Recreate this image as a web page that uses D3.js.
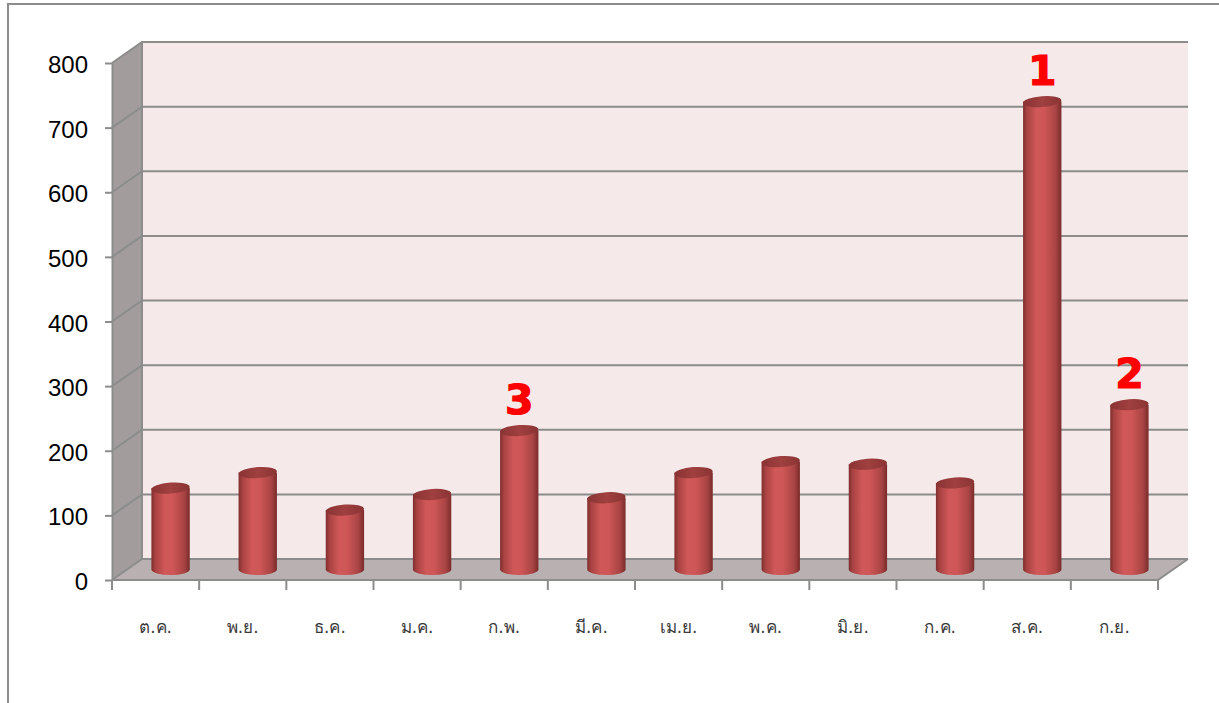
<!DOCTYPE html>
<html>
<head>
<meta charset="utf-8">
<script src="https://cdn.jsdelivr.net/npm/d3@7"></script>
<style>
  html, body { margin: 0; padding: 0; background: #fff; }
  svg { display: block; }
</style>
</head>
<body>
<svg id="chart" width="1219" height="703"></svg>
<script>
// data
var months = ['ต.ค.', 'พ.ย.', 'ธ.ค.', 'ม.ค.', 'ก.พ.', 'มี.ค.', 'เม.ย.', 'พ.ค.', 'มิ.ย.', 'ก.ค.', 'ส.ค.', 'ก.ย.'];
var counts = [126, 150, 92, 116, 215, 111, 150, 167, 163, 134, 724, 255];
var yTicks = [0, 100, 200, 300, 400, 500, 600, 700, 800];
var rankLabels = [{ month: 'ส.ค.', text: '1' }, { month: 'ก.ย.', text: '2' }, { month: 'ก.พ.', text: '3' }];

var svg = d3.select('#chart');

// 3d depth offset of the back wall
var dx = 30, dy = -21;

var x = d3.scaleBand().domain(months).range([112, 1158]).padding(0);
var y = d3.scaleLinear().domain([0, 800]).range([580, 63]);

var defs = svg.append('defs');
var grad = defs.append('linearGradient').attr('id', 'cyl').attr('x1', 0).attr('x2', 1).attr('y1', 0).attr('y2', 0);
[['0%', '#7f2d2d'], ['10%', '#a84242'], ['35%', '#d15858'], ['55%', '#cf5656'], ['85%', '#a94444'], ['100%', '#7a2b2b']]
  .forEach(function (s) { grad.append('stop').attr('offset', s[0]).attr('stop-color', s[1]); });
var topGrad = defs.append('linearGradient').attr('id', 'cyltop').attr('x1', 0).attr('x2', 1);
[['0%', '#8a3333'], ['50%', '#a04040'], ['100%', '#8a3333']]
  .forEach(function (s) { topGrad.append('stop').attr('offset', s[0]).attr('stop-color', s[1]); });

// outer frame
svg.append('path').attr('d', 'M8,703 L8,4 L1219,4')
  .attr('fill', 'none').attr('stroke', '#8c8c8c').attr('stroke-width', 2);

// back wall
svg.append('rect')
  .attr('x', 112 + dx).attr('y', y(800) + dy)
  .attr('width', 1158 - 112).attr('height', y(0) - y(800))
  .attr('fill', '#f5e9e9');

// side wall
svg.append('polygon')
  .attr('points', [[112, y(800)], [112 + dx, y(800) + dy], [112 + dx, y(0) + dy], [112, y(0)]].join(' '))
  .attr('fill', '#a29c9c');

// floor
svg.append('polygon')
  .attr('points', [[112, y(0)], [1158, y(0)], [1158 + dx, y(0) + dy], [112 + dx, y(0) + dy]].join(' '))
  .attr('fill', '#b9b1b1');

// gridlines on back wall and side wall
var grid = svg.append('g').attr('stroke', '#8c8c8c').attr('stroke-width', 2).attr('fill', 'none');
yTicks.forEach(function (t) {
  grid.append('path')
    .attr('d', 'M' + 112 + ',' + y(t) + ' L' + (112 + dx) + ',' + (y(t) + dy) + ' L' + (1158 + dx) + ',' + (y(t) + dy));
});
grid.append('path').attr('d', 'M' + (112 + dx) + ',' + (y(800) + dy) + ' L' + (112 + dx) + ',' + (y(0) + dy));
grid.append('path').attr('d', 'M' + 112 + ',' + y(0) + ' L' + 1158 + ',' + y(0) + ' L' + (1158 + dx) + ',' + (y(0) + dy));

// y axis
var yAxis = svg.append('g').attr('transform', 'translate(112,0)')
  .call(d3.axisLeft(y).tickValues(yTicks).tickSize(7).tickPadding(17).tickSizeOuter(0));
yAxis.select('.domain').attr('stroke', '#8c8c8c').attr('stroke-width', 2);
yAxis.selectAll('.tick line').attr('stroke', '#8c8c8c').attr('stroke-width', 2);
yAxis.selectAll('.tick text').attr('font-family', 'Liberation Sans, Arial, sans-serif')
  .attr('font-size', 24).attr('fill', '#000').attr('dy', '0.4em');

// x axis ticks at category boundaries
var xt = svg.append('g').attr('stroke', '#8c8c8c').attr('stroke-width', 2);
months.concat(['end']).forEach(function (m, i) {
  var px = i < months.length ? x(m) : x.range()[1];
  xt.append('line').attr('x1', px).attr('x2', px).attr('y1', y(0)).attr('y2', y(0) + 10);
});
svg.append('g').selectAll('text').data(months).enter().append('text')
  .attr('x', function (d) { return x(d) + x.bandwidth() / 2; })
  .attr('y', 633)
  .attr('text-anchor', 'middle')
  .attr('font-family', 'Tahoma, DejaVu Sans, sans-serif')
  .attr('font-size', 17)
  .attr('fill', '#3a3a3a')
  .text(function (d) { return d; });

// cylinders at mid depth
var bw = x.bandwidth() * 0.44;
var ry = 5.5;
var bars = svg.append('g').selectAll('g').data(months.map(function (m, i) { return { m: m, v: counts[i] }; }))
  .enter().append('g')
  .attr('transform', function (d) { return 'translate(' + (x(d.m) + x.bandwidth() / 2 + dx / 2) + ',' + (dy / 2) + ')'; });

bars.append('path')
  .attr('d', function (d) {
    var yb = y(0), yt = y(d.v), r = bw / 2;
    return 'M' + (-r) + ',' + yt + ' L' + (-r) + ',' + yb +
      ' A' + r + ',' + ry + ' 0 0 0 ' + r + ',' + yb +
      ' L' + r + ',' + yt + ' Z';
  })
  .attr('fill', 'url(#cyl)');

bars.append('ellipse')
  .attr('cx', 0).attr('cy', function (d) { return y(d.v); })
  .attr('rx', bw / 2).attr('ry', ry)
  .attr('transform', function (d) { return 'rotate(-4,0,' + y(d.v) + ')'; })
  .attr('fill', 'url(#cyltop)');

// rank labels
svg.append('g').selectAll('text').data(rankLabels).enter().append('text')
  .attr('x', function (d) { return x(d.month) + x.bandwidth() / 2 + dx / 2; })
  .attr('y', function (d) { return y(counts[months.indexOf(d.month)]) + dy / 2 - 17; })
  .attr('text-anchor', 'middle')
  .attr('font-family', 'DejaVu Sans, Verdana, sans-serif')
  .attr('font-weight', 'bold')
  .attr('font-size', 41)
  .attr('fill', '#ff0000')
  .attr('stroke', '#ff0000')
  .attr('stroke-width', 1.2)
  .text(function (d) { return d.text; });
</script>
</body>
</html>
